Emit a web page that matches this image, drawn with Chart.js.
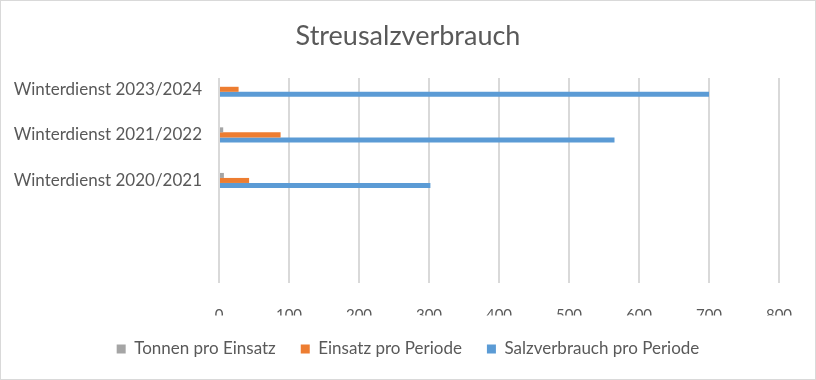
<!DOCTYPE html>
<html>
<head>
<meta charset="utf-8">
<script src="https://cdn.jsdelivr.net/npm/chart.js@4"></script>
<style>
    body { margin: 0; background: #ffffff; }
    #wrap { width: 816px; height: 380px; }
    #myChart { outline: 1px solid #d9d9d9; outline-offset: -1px; }
</style>
</head>
<body>
<div id="wrap"><canvas id="myChart" width="816" height="380"></canvas></div>
<script>
// categories from top to bottom, every second label is hidden in the original
const categories = ['Winterdienst 2023/2024', '', 'Winterdienst 2021/2022', '', 'Winterdienst 2020/2021', '', '', '', ''];
const tonnenProEinsatz = [null, null, 6, null, 7, null, null, null, null];
const einsatzProPeriode = [28, null, 88, null, 43, null, null, null, null];
const salzProPeriode = [700, null, 565, null, 302, null, null, null, null];
const xTicks = [0, 100, 200, 300, 400, 500, 600, 700, 800];

const textColor = '#595959';
const fontName = 'Lato';

const data = {
    labels: categories,
    datasets: [
        {
            label: 'Tonnen pro Einsatz',
            data: tonnenProEinsatz,
            backgroundColor: '#a5a5a5',
        },
        {
            label: 'Einsatz pro Periode',
            data: einsatzProPeriode,
            backgroundColor: '#ed7d31',
        },
        {
            label: 'Salzverbrauch pro Periode',
            data: salzProPeriode,
            backgroundColor: '#5b9bd5',
        },
    ],
};

const options_b = {
    indexAxis: 'y',
    responsive: false,
    animation: false,
    datasets: {
        bar: {
            barPercentage: 1,
            categoryPercentage: 0.66,
            borderWidth: 0,
        }
    },
    layout: {
        padding: { top: 11, left: 0, right: 0, bottom: 12.5 }
    },
    plugins: {
        title: {
            display: true,
            text: 'Streusalzverbrauch',
            color: textColor,
            font: { family: fontName, size: 27, weight: 'normal', lineHeight: 1.2 },
            padding: { top: 9.5, bottom: 25 },
        },
        legend: {
            position: 'bottom',
            labels: {
                color: textColor,
                boxWidth: 9,
                boxHeight: 9,
                padding: 25,
                font: { family: fontName, size: 17 },
            },
        },
        tooltip: { enabled: false },
    },
    scales: {
        x: {
            min: 0,
            max: 800,
            afterBuildTicks: function(scale){
                scale.ticks = xTicks.map(v => ({ value: v }));
            },
            // tick labels are clipped to this box, keep it tall enough
            afterFit: function(scale){
                scale.height = 32.5;
            },
            grid: {
                color: '#d9d9d9',
                lineWidth: 2,
                drawTicks: false,
            },
            border: { display: false },
            ticks: {
                color: textColor,
                padding: 23,
                font: { family: fontName, size: 15 },
            },
        },
        y: {
            afterFit: function(scale){
                scale.width = 219;
            },
            grid: { display: false, drawTicks: false },
            border: { display: false },
            ticks: {
                autoSkip: false,
                color: textColor,
                padding: 17,
                font: { family: fontName, size: 17 },
            },
        },
        // empty axis on the right, keeps the plot narrower than the title row
        yRight: {
            type: 'category',
            position: 'right',
            afterFit: function(scale){
                scale.width = 37;
            },
            grid: { display: false, drawTicks: false },
            border: { display: false },
            ticks: { display: false },
        },
    },
};

const config = {
    type: 'bar',
    data: data,
    options: options_b,
};

const chart = new Chart(document.getElementById('myChart'), config);
</script>
</body>
</html>
